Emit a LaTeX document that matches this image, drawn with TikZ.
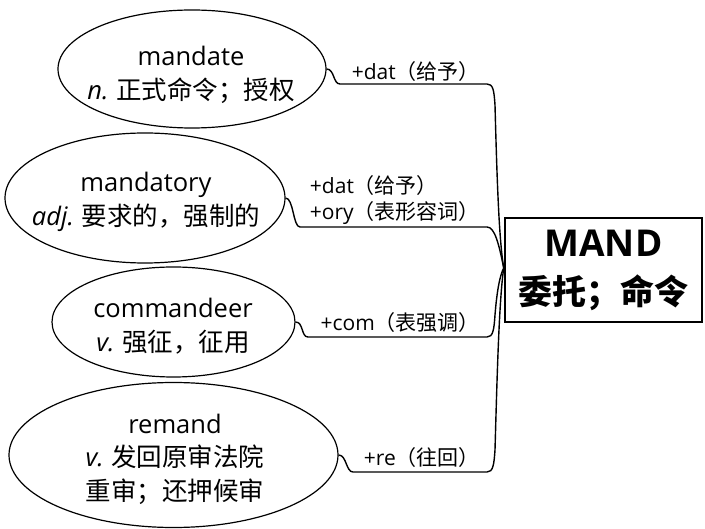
\documentclass[tikz,border=0pt]{standalone}
\usepackage{fontspec}
\setmainfont{Noto Sans CJK SC}
\newfontfamily\lat{Open Sans}
\usetikzlibrary{shapes.geometric}
\begin{document}
\begin{tikzpicture}[x=1pt,y=-1pt,
  word/.style={ellipse,draw,line width=1.2pt,inner sep=0pt},
  wtext/.style={inner sep=0pt,align=center,font=\fontsize{25.5}{33.5}\selectfont},
  lab/.style={inner sep=0pt,anchor=east,align=left,font=\fontsize{21}{26}\selectfont},
  conn/.style={line width=1.4pt}]
\useasboundingbox (0,0) rectangle (705,529);
\node[word,minimum width=268pt,minimum height=118pt] (m1) at (192,69) {};
\node[word,minimum width=280pt,minimum height=130pt] (m2) at (145,198) {};
\node[word,minimum width=243pt,minimum height=110pt] (m3) at (173.5,322) {};
\node[word,minimum width=329pt,minimum height=145pt] (m4) at (173.5,455) {};
\node[wtext] (t1) at (191,75) {{\lat mandate}\\{\lat\itshape n.} 正式命令；授权};
\node[wtext] (t2) at (146,202) {{\lat mandatory}\\{\lat\itshape adj.} 要求的，强制的};
\node[wtext] (t3) at (173,326) {{\lat commandeer}\\{\lat\itshape v.} 强征，征用};
\node[wtext] (t4) at (175,459) {{\lat remand}\\{\lat\itshape v.} 发回原审法院\\重审；还押候审};
\node[draw,line width=2.5pt,minimum width=197pt,minimum height=104pt,inner sep=0pt,align=center,font=\fontsize{34}{48}\selectfont\bfseries] (core) at (603.5,270) {{\lat\fontsize{37}{48}\selectfont MAND}\\委托；命令};
\coordinate (j) at ([yshift=2pt]core.west);
\node[lab] (l1) at (480,72) {{\lat +dat}（给予）};
\node[lab] (l2) at (480,200) {{\lat +dat}（给予）\\{\lat +ory}（表形容词）};
\node[lab] (l3) at (480,323) {{\lat +com}（表强调）};
\node[lab] (l4) at (480,458) {{\lat +re}（往回）};
\draw[conn] (m1.east) .. controls +(8,0) and +(-7,0) .. (340,84) -- (487,84) .. controls (493,84) and (494,90) .. (495,105) .. controls (497,180) and (499,240) .. (j);
\draw[conn] (m2.east) .. controls +(8,0) and +(-7,0) .. (300,227) -- (487,227) .. controls (495,227) and (499,245) .. (j);
\draw[conn] (m3.east) .. controls +(8,0) and +(-7,0) .. (308,337) -- (487,337) .. controls (493,337) and (494,330) .. (495,315) .. controls (497,290) and (500,275) .. (j);
\draw[conn] (m4.east) .. controls +(8,0) and +(-7,0) .. (353,472) -- (487,472) .. controls (493,472) and (494,465) .. (495,450) .. controls (497,380) and (499,300) .. (j);
\end{tikzpicture}
\end{document}
